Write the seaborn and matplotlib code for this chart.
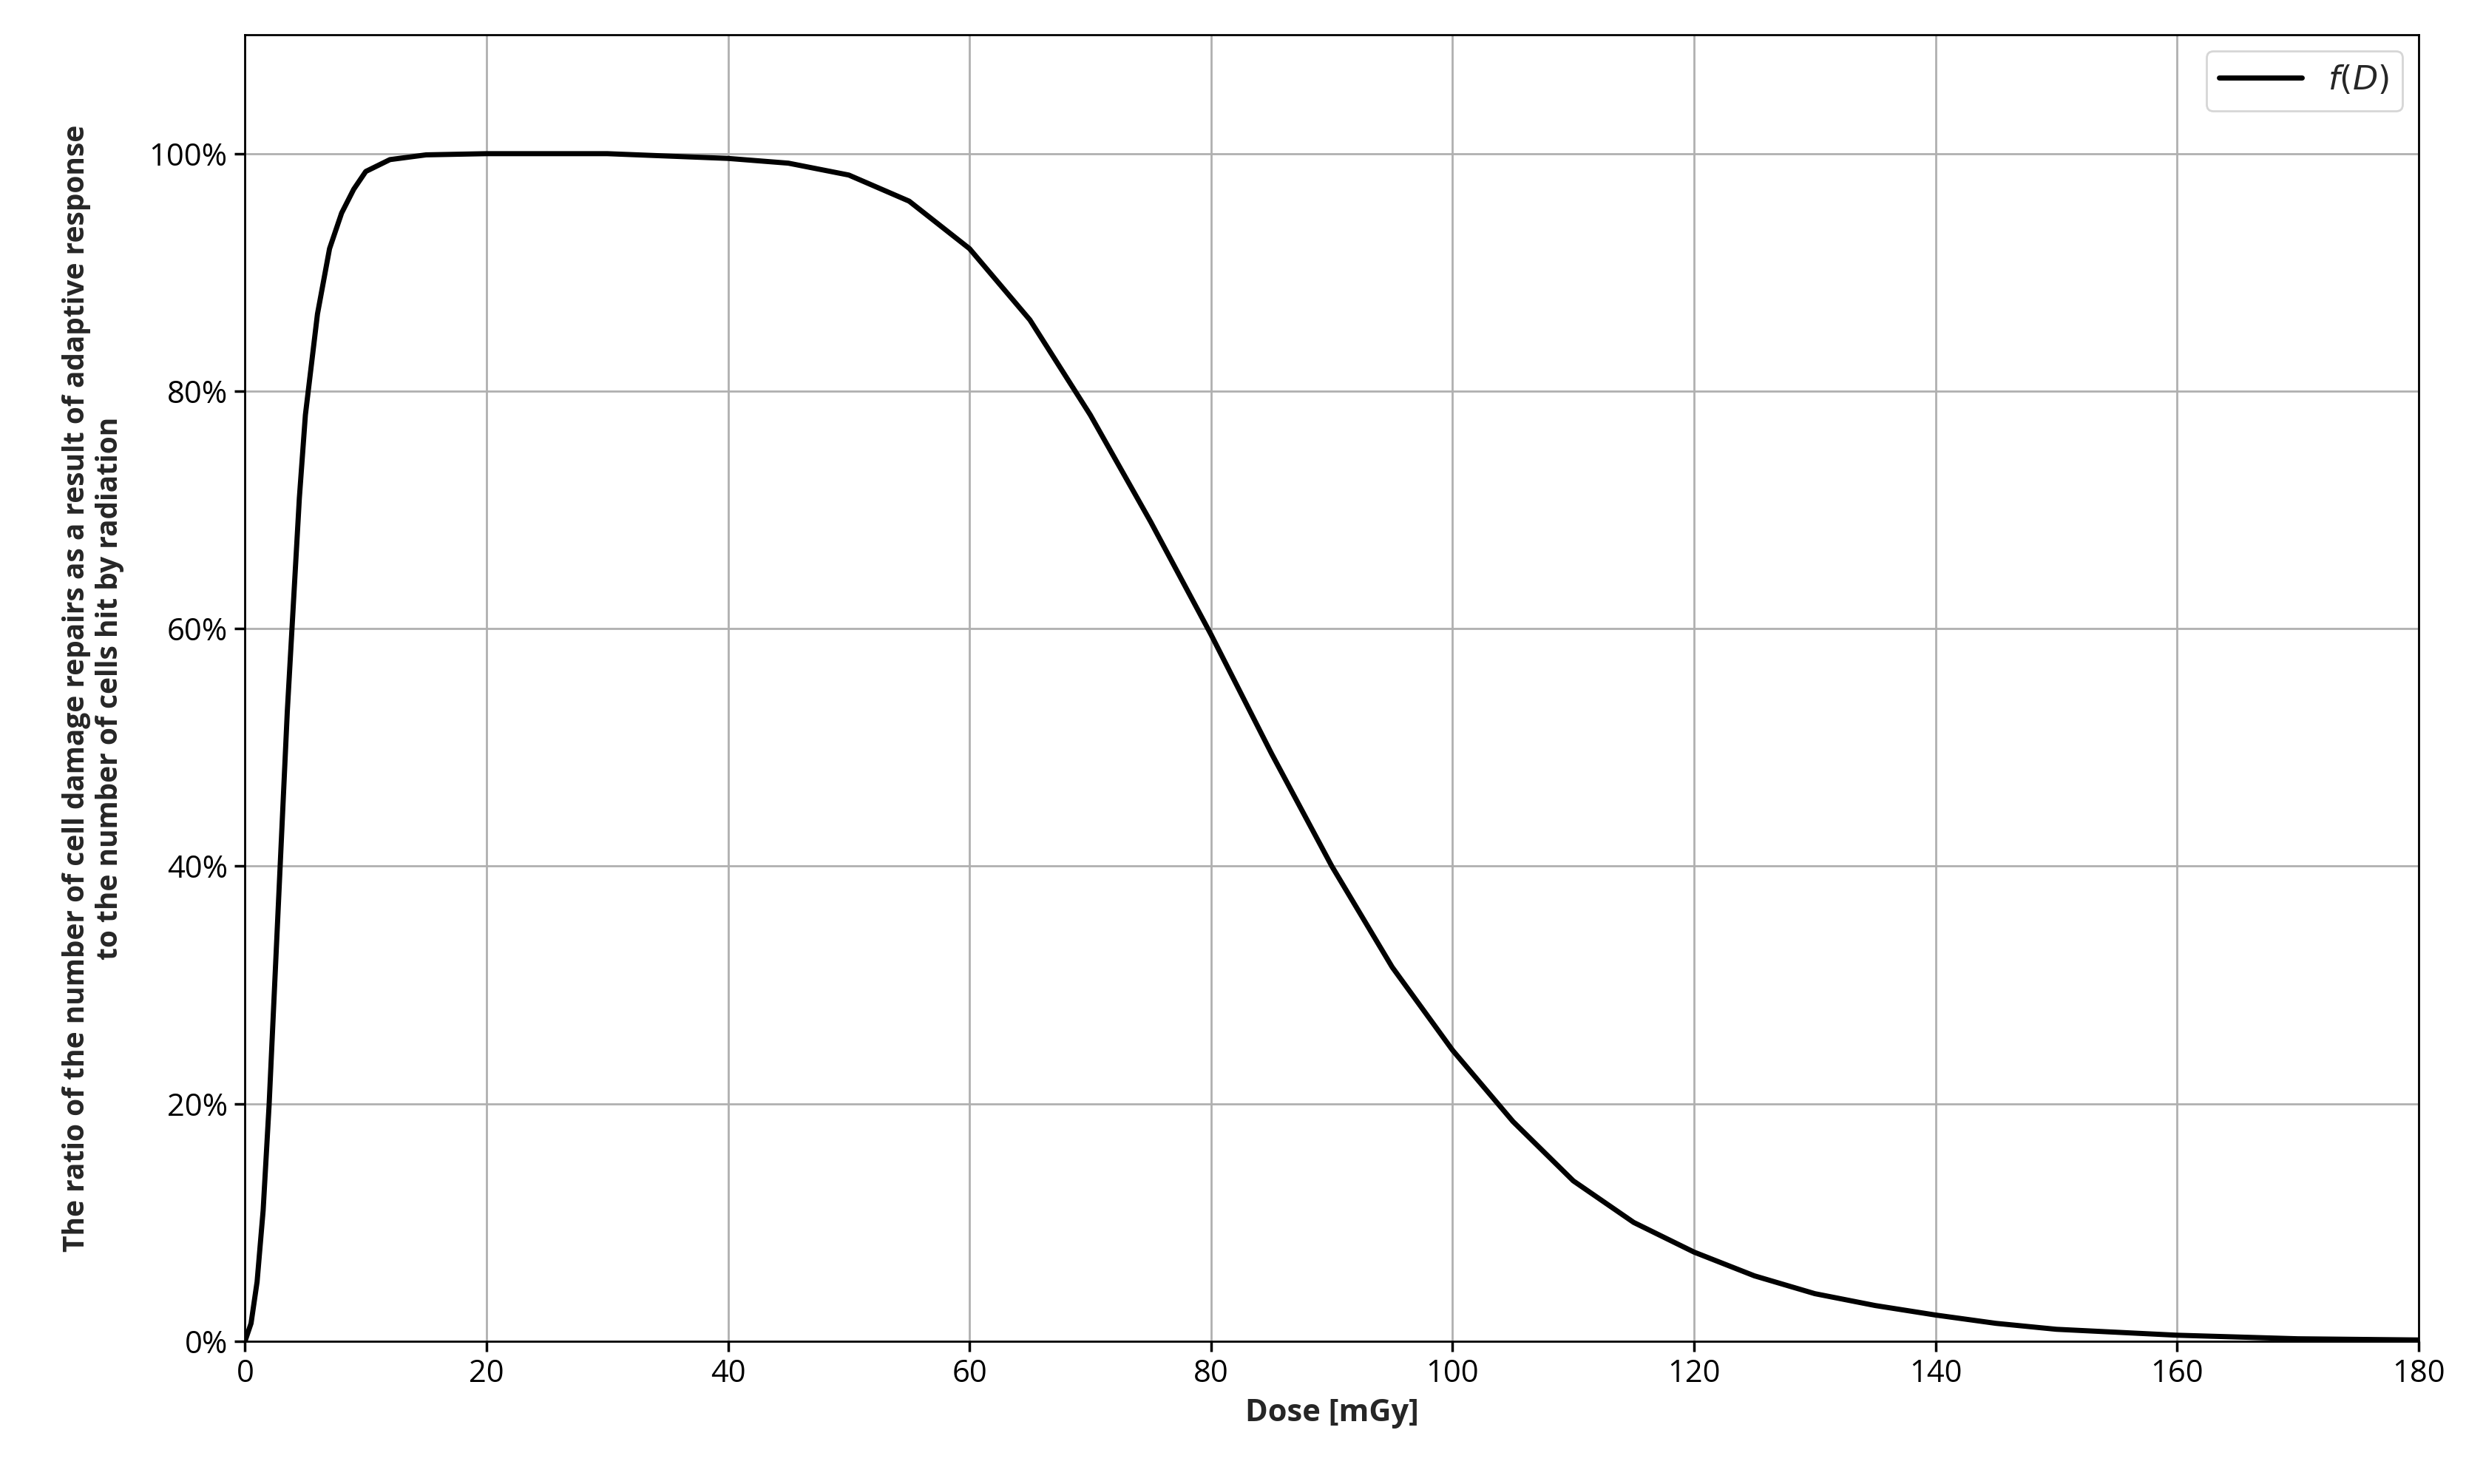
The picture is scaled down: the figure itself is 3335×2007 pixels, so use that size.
import matplotlib
matplotlib.use("Agg")
import matplotlib.pyplot as plt
import seaborn as sns
import pandas as pd
from matplotlib.ticker import FuncFormatter

dose = [0, 0.5, 1, 1.5, 2, 2.5, 3, 3.5, 4, 4.5, 5, 6, 7, 8, 9, 10, 12, 15, 20, 30, 40, 45, 50, 55, 60,
        65, 70, 75, 80, 85, 90, 95, 100, 105, 110, 115, 120, 125, 130, 135, 140, 145, 150, 160, 170, 180]
ratio = [0, 1.5, 5, 11, 20, 31, 42, 53, 62, 71, 78, 86.5, 92, 95, 97, 98.5, 99.5, 99.9, 100, 100, 99.6,
         99.2, 98.2, 96, 92, 86, 78, 69, 59.5, 49.5, 40, 31.5, 24.5, 18.5, 13.5, 10, 7.5, 5.5, 4, 3,
         2.2, 1.5, 1.0, 0.5, 0.2, 0.1]

df = pd.DataFrame({"dose": dose, "ratio": ratio})

sns.set_theme(style="whitegrid")
plt.rcParams['font.family'] = ['Open Sans', 'DejaVu Sans']

fig = plt.figure(figsize=(16.675, 10.035), dpi=200)
ax = fig.add_axes([155/1560, 1 - 845/935, (1530-155)/1560, (845-22)/935])
sns.lineplot(data=df, x="dose", y="ratio", ax=ax, color="black", linewidth=2.5, label="$f(D)$")
ax.set_xlim(0, 180)
ax.set_ylim(0, 110)
ax.set_xticks(range(0, 181, 20))
ax.set_yticks(range(0, 101, 20))
ax.yaxis.set_major_formatter(FuncFormatter(lambda v, p: f"{int(v)}%"))
ax.tick_params(labelsize=15, length=5, colors="black", left=True, bottom=True)
ax.grid(True, color="#b0b0b0", linewidth=1)
for s in ax.spines.values():
    s.set_color("black"); s.set_linewidth(1)
ax.set_facecolor("white")
ax.set_xlabel("Dose [mGy]", fontsize=15, fontweight="bold")
ax.set_ylabel("The ratio of the number of cell damage repairs as a result of adaptive response\nto the number of cells hit by radiation",
              fontsize=14, fontweight="bold", labelpad=12)
leg = ax.legend(loc="upper right", fontsize=16, frameon=True, fancybox=True, handlelength=2.5)
leg.get_frame().set_edgecolor("#cccccc")
fig.savefig("out.png", dpi=200, facecolor="white")
